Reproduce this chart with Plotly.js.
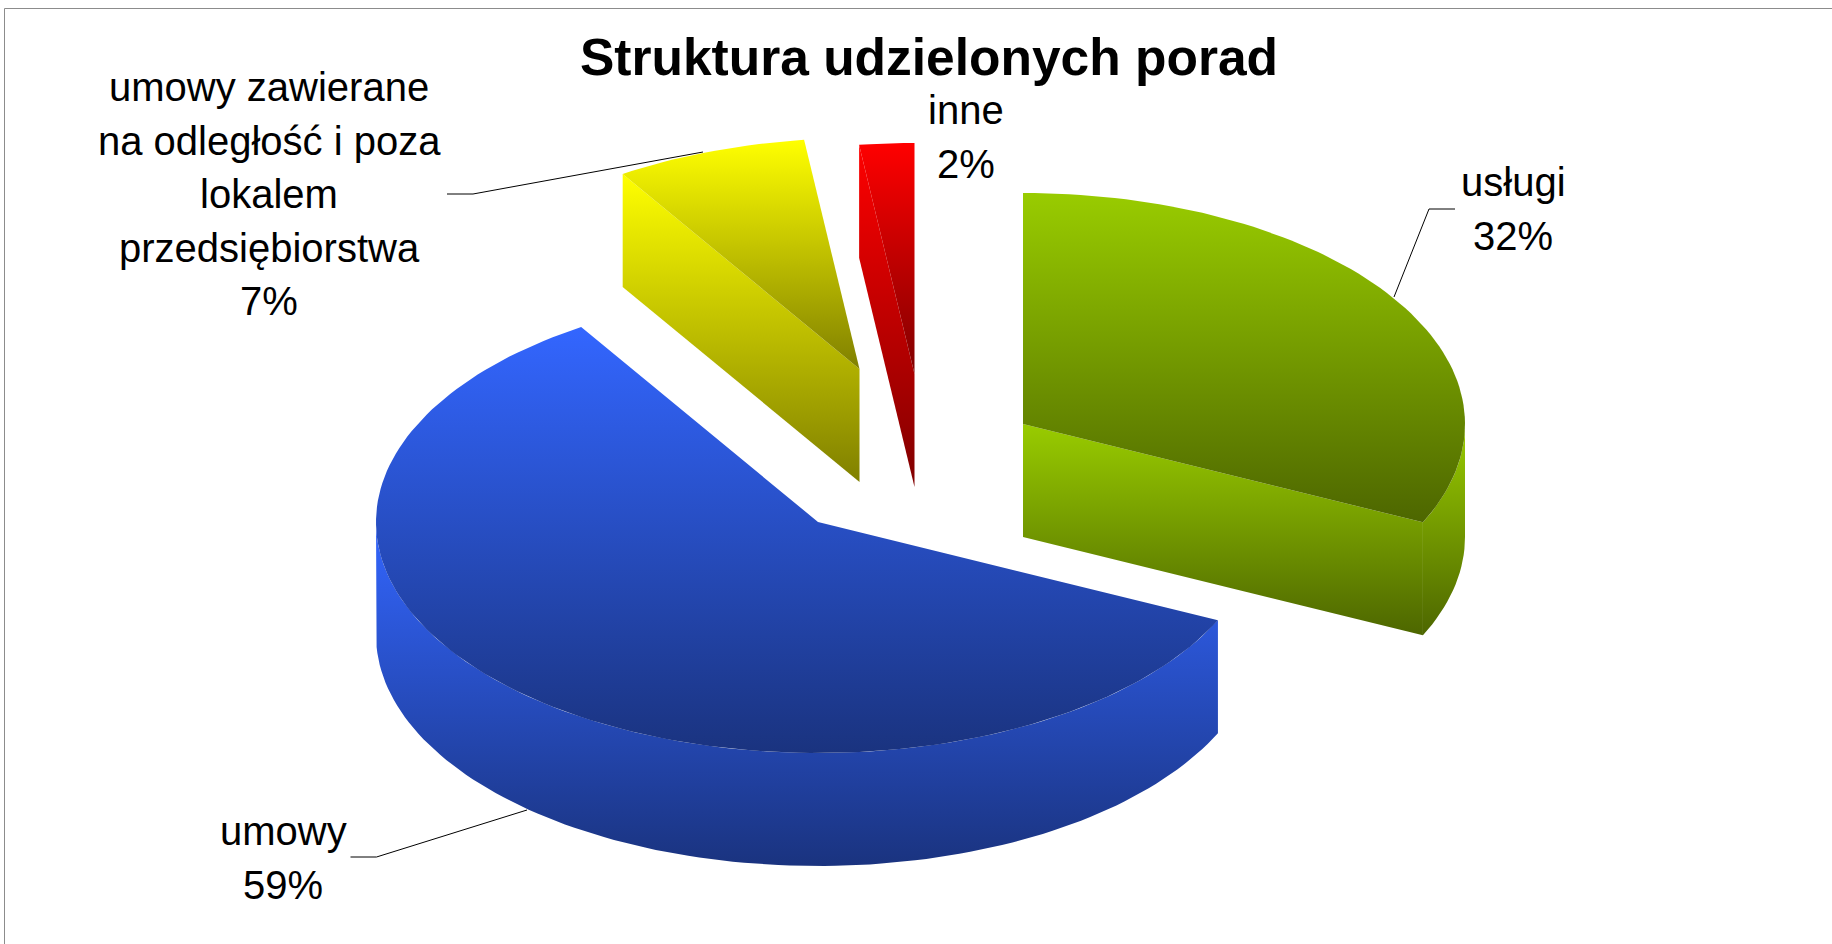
<!DOCTYPE html>
<html><head><meta charset="utf-8">
<script src="https://cdn.plot.ly/plotly-3.0.1.min.js"></script>
<style>html,body{margin:0;padding:0;background:#fff}#c{width:1832px;height:944px}</style>
</head><body><div id="c"></div>
<script>
const categories = ['usługi', 'umowy', 'umowy zawierane<br>na odległość i poza<br>lokalem<br>przedsiębiorstwa', 'inne'];
const values = [32, 59, 7, 2];
const topColors = ['#99CC00', '#3366FF', '#FFFF00', '#FF0000'];
const bottomColors = ['#4D6600', '#1A337F', '#808000', '#800000'];

// 3D pie projection: ellipse radii, extrusion depth, exploded slice apexes (axis units)
const RX = 442, RY = 231, DEPTH = 113;
const apex = [[1023, 424], [818, 522], [859.5, 369], [914.5, 374]];
const labelPos = [[1513, 210], [283, 859], [269, 195], [966, 138]];
const LINE_HEIGHT = 53.5;
const leaders = [
  'M1455,209 L1429,209 L1394,297',
  'M350.5,857 L376.5,857 L527,810',
  'M447,194 L473,194 L703,152'
];

const total = values.reduce((a, b) => a + b, 0);
let cum = -90;
const slices = values.map((v, i) => {
  const a0 = cum, a1 = cum + v / total * 360;
  cum = a1;
  return {a0, a1, c: apex[i], i};
});
const pt = (c, a, dz = 0) => [c[0] + RX * Math.cos(a * Math.PI / 180), c[1] + RY * Math.sin(a * Math.PI / 180) + dz];
function arc(c, a0, a1, dz = 0) {
  const n = Math.max(2, Math.ceil(Math.abs(a1 - a0) / 1.5));
  const out = [];
  for (let k = 0; k <= n; k++) out.push(pt(c, a0 + (a1 - a0) * k / n, dz));
  return out;
}
function poly(points, i, part) {
  const xs = points.map(p => p[0]), ys = points.map(p => p[1]);
  xs.push(xs[0]); ys.push(ys[0]);
  return {
    type: 'scatter', mode: 'lines', x: xs, y: ys, fill: 'toself',
    line: {width: 0, color: 'rgba(0,0,0,0)'},
    fillgradient: {type: 'vertical', colorscale: [[0, bottomColors[i]], [1, topColors[i]]]},
    name: categories[i].replace(/<br>/g, ' ') + ' ' + part,
    hoverinfo: 'text', text: categories[i].replace(/<br>/g, ' ') + ': ' + values[i] + '%',
    showlegend: false
  };
}
const data = [];
const draw = (i) => {
  const s = slices[i], c = s.c;
  const below = [c[0], c[1] + DEPTH];
  if (i === 2 || i === 3) { // visible radial face on the start side
    const p = pt(c, s.a0);
    data.push(poly([c, p, pt(c, s.a0, DEPTH), below], i, 'bok'));
  }
  if (i === 0) { // visible radial face on the end side and outer wall
    const p = pt(c, s.a1);
    data.push(poly([c, p, pt(c, s.a1, DEPTH), below], i, 'bok'));
    data.push(poly(arc(c, 0, s.a1).concat(arc(c, s.a1, 0, DEPTH)), i, 'ściana'));
  }
  if (i === 1) { // outer wall
    data.push(poly(arc(c, s.a0, 180).concat(arc(c, 180, s.a0, DEPTH)), i, 'ściana'));
  }
  data.push(poly([c].concat(arc(c, s.a0, s.a1)), i, 'góra'));
};
[3, 2, 0, 1].forEach(draw);

const font = {family: '"Liberation Sans", Arial, sans-serif', color: '#000000', size: 40};
const annotations = [];
categories.forEach((t, i) => {
  const lines = t.split('<br>').concat(values[i] + '%');
  lines.forEach((line, k) => annotations.push({
    x: labelPos[i][0], y: labelPos[i][1] + (k - (lines.length - 1) / 2) * LINE_HEIGHT - 1,
    xref: 'x', yref: 'y', text: line, showarrow: false,
    xanchor: 'center', yanchor: 'middle', align: 'center', font
  }));
});
const lineStyle = {color: '#000000', width: 1};
const shapes = leaders.map(path => ({type: 'path', path, xref: 'x', yref: 'y', line: lineStyle}));
shapes.push({type: 'path', path: 'M4.5,944 L4.5,8.5 L1832,8.5', xref: 'x', yref: 'y', line: {color: '#8C8C8C', width: 1}});

const layout = {
  width: 1832, height: 944,
  margin: {l: 0, r: 0, t: 0, b: 0},
  paper_bgcolor: '#FFFFFF', plot_bgcolor: '#FFFFFF',
  title: {text: '<b>Struktura udzielonych porad</b>', x: 929 / 1832, xanchor: 'center', y: 1 - 57 / 944, yanchor: 'middle',
    font: {family: '"Liberation Sans", Arial, sans-serif', size: 51.5, color: '#000000'}},
  xaxis: {range: [0, 1832], visible: false, fixedrange: true},
  yaxis: {range: [944, 0], visible: false, fixedrange: true},
  showlegend: false, annotations, shapes
};
Plotly.newPlot('c', data, layout, {displayModeBar: false, responsive: false});
</script></body></html>
